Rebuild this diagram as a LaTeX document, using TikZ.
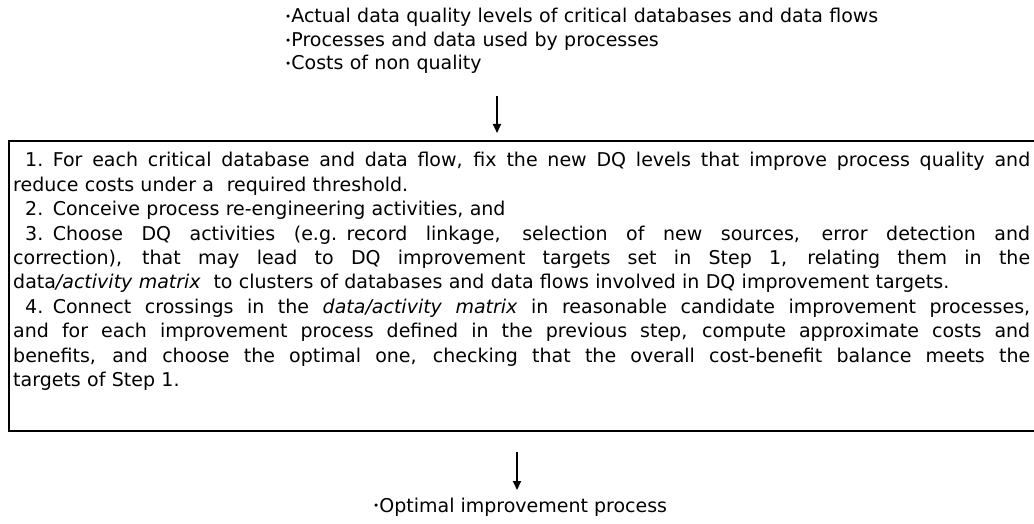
\documentclass[tikz,border=0pt]{standalone}
\usepackage{fontspec}
\setmainfont{DejaVu Sans}
\usetikzlibrary{arrows.meta}

% small centred dot used as list marker
\newcommand\listdot{\raisebox{0.2ex}{\scalebox{0.55}{\textbullet}}}
% one full-width (justified) line and one natural-width line
\newcommand\fullline[1]{\par\hbox to\hsize{\spaceskip=0.318em plus 1fil minus 0.12em\relax #1}}
\newcommand\shortline[1]{\par\hbox{#1}}
\newcommand\lead{\kern12pt}

\tikzset{
  txt/.style={inner sep=0pt, font=\fontsize{19pt}{23.5pt}\selectfont},
  flow/.style={line width=2pt, -{Triangle[width=8pt,length=9pt]}},
  frame/.style={line width=1.6pt}
}

\begin{document}
\begin{tikzpicture}[x=1pt,y=1pt]
\clip (0,0) rectangle (1034,-524);
\fill[white] (0,0) rectangle (1034,-524);

% inputs
\node[txt, anchor=base west, text width=740pt, align=left] (inputs) at (285,-23)
  {\listdot Actual data quality levels of critical databases and data flows\\
   \listdot Processes and data used by processes\\
   \listdot Costs of non quality};

% steps box (the anchor is the baseline of the empty opening line)
\node[txt, anchor=base west, text width=1017pt,
      font=\fontsize{19pt}{24.4pt}\selectfont] (steps) at (13,-142.6)
  {\parskip=0pt
   \fullline{\lead 1. For each critical database and data flow, fix the new DQ levels that improve process quality and}
   \shortline{reduce costs under a\ \ required threshold.}
   \shortline{\lead 2. Conceive process re-engineering activities, and}
   \fullline{\lead 3. Choose DQ activities (e.g. record linkage, selection of new sources, error detection and}
   \fullline{correction), that may lead to DQ improvement targets set in Step 1, relating them in the}
   \shortline{data\textit{/activity matrix}\ \ to clusters of databases and data flows involved in DQ improvement targets.}
   \fullline{\lead 4. Connect crossings in the \textit{data/activity matrix} in reasonable candidate improvement processes,}
   \fullline{and for each improvement process defined in the previous step, compute approximate costs and}
   \fullline{benefits, and choose the optimal one, checking that the overall cost-benefit balance meets the}
   \shortline{targets of Step 1.}\par};

\coordinate (boxtl) at (9,-141);
\coordinate (boxbl) at (9,-431);
\draw[frame] (boxtl -| 1050,0) -- (boxtl) -- (boxbl) -- (boxbl -| 1050,0);

% output
\node[txt, anchor=base west] (output) at (373,-512) {\listdot Optimal improvement process};

% arrows
\coordinate (a1s) at (497,-96);
\coordinate (a1e) at (497,-133);
\coordinate (a2s) at (517,-452);
\coordinate (a2e) at (517,-490);
\draw[flow] (a1s) -- (a1e);
\draw[flow] (a2s) -- (a2e);
\end{tikzpicture}
\end{document}
